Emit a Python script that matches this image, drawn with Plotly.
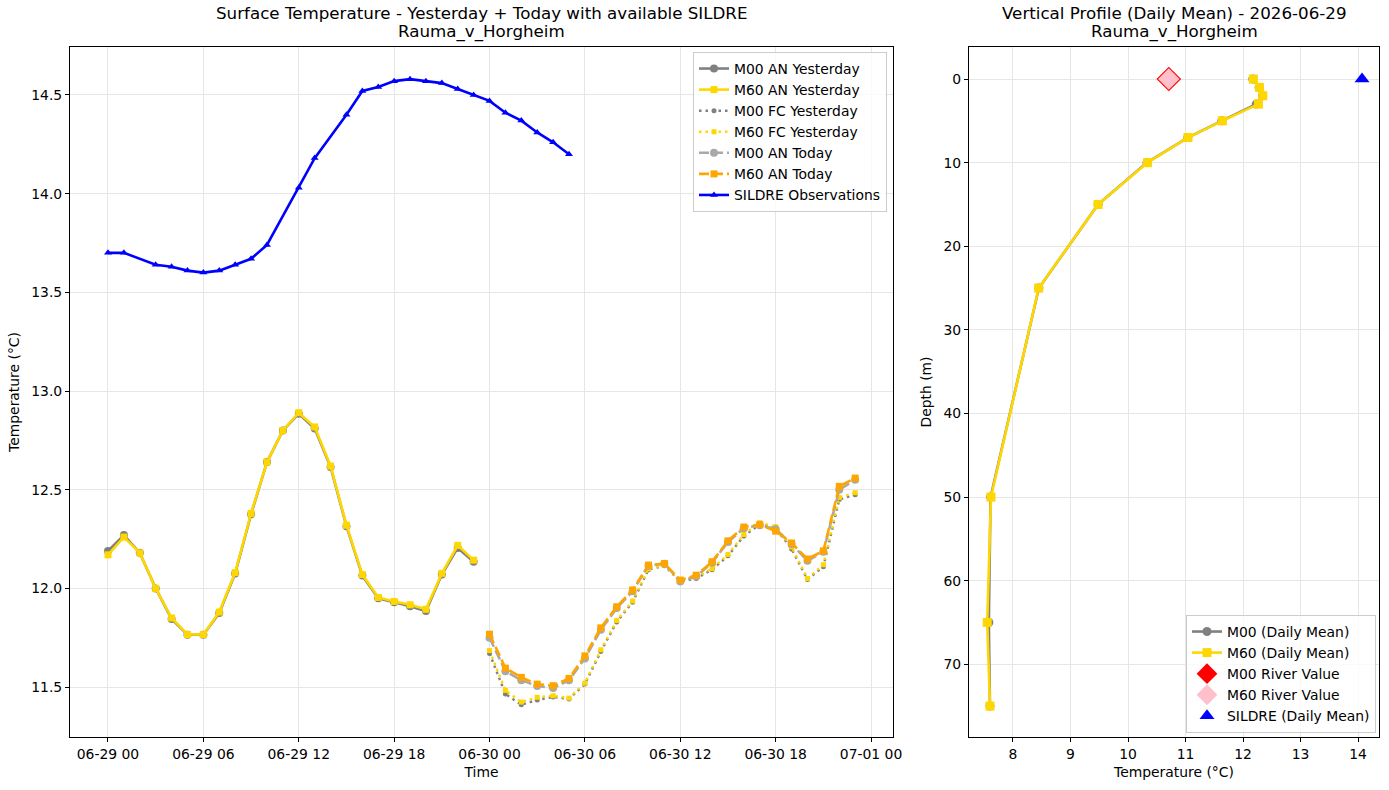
import plotly.graph_objects as go
from datetime import datetime, timedelta

# ---------------- data ----------------
day1 = datetime(2026, 6, 29)
day2 = datetime(2026, 6, 30)
hours_yesterday = [day1 + timedelta(hours=h) for h in range(24)]
hours_today = [day2 + timedelta(hours=h) for h in range(24)]

m00_an_yesterday = [12.19, 12.27, 12.18, 12.00, 11.845, 11.765, 11.765, 11.875, 12.075, 12.375,
                    12.64, 12.80, 12.885, 12.81, 12.615, 12.315, 12.065, 11.95, 11.93, 11.91,
                    11.885, 12.07, 12.205, 12.135]
m60_an_yesterday = [12.17, 12.26, 12.18, 12.00, 11.85, 11.766, 11.766, 11.88, 12.08, 12.38,
                    12.64, 12.80, 12.89, 12.818, 12.62, 12.32, 12.07, 11.954, 11.934, 11.917,
                    11.894, 12.076, 12.218, 12.143]

m00_fc_yesterday = [11.67, 11.465, 11.41, 11.435, 11.45, 11.44, 11.515, 11.68, 11.83, 11.93,
                    12.095, 12.115, 12.035, 12.05, 12.095, 12.165, 12.265, 12.325, 12.305, 12.20,
                    12.045, 12.11, 12.45, 12.475]
m60_fc_yesterday = [11.685, 11.483, 11.424, 11.448, 11.456, 11.444, 11.52, 11.689, 11.837, 11.936,
                    12.10, 12.118, 12.042, 12.056, 12.10, 12.172, 12.273, 12.333, 12.313, 12.21,
                    12.05, 12.12, 12.46, 12.485]

m00_an_today = [11.75, 11.58, 11.535, 11.505, 11.495, 11.535, 11.645, 11.79, 11.90, 11.985,
                12.115, 12.125, 12.035, 12.06, 12.13, 12.235, 12.305, 12.32, 12.30, 12.225,
                12.14, 12.185, 12.50, 12.55]
m60_an_today = [11.768, 11.596, 11.549, 11.515, 11.507, 11.544, 11.658, 11.80, 11.907, 11.992,
                12.118, 12.126, 12.042, 12.067, 12.135, 12.241, 12.311, 12.323, 12.29, 12.23,
                12.149, 12.19, 12.517, 12.559]

sildre_hours = [0, 1, 3, 4, 5, 6, 7, 8, 9, 10, 12, 13, 15, 16, 17, 18, 19, 20, 21, 22, 23,
                24, 25, 26, 27, 28, 29]
sildre_times = [day1 + timedelta(hours=h) for h in sildre_hours]
sildre_obs = [13.70, 13.70, 13.64, 13.63, 13.61, 13.60, 13.61, 13.64, 13.67, 13.74,
              14.03, 14.18, 14.40, 14.52, 14.54, 14.57, 14.58, 14.57, 14.56, 14.53, 14.50,
              14.47, 14.41, 14.37, 14.31, 14.26, 14.20]

depths = [0, 1, 2, 3, 5, 7, 10, 15, 25, 50, 65, 75]
m00_profile = [12.17, 12.28, 12.34, 12.23, 11.63, 11.04, 10.33, 9.48, 8.45, 7.61, 7.58, 7.60]
m60_profile = [12.18, 12.286, 12.344, 12.268, 11.641, 11.043, 10.34, 9.48, 8.447, 7.617, 7.552, 7.60]

river_m00 = 10.71
river_m60 = 10.71
sildre_daily_mean = 14.07

time_ticks = [day1 + timedelta(hours=6 * i) for i in range(9)]
time_tick_labels = [t.strftime("%m-%d %H") for t in time_ticks]
left_y_ticks = [11.5, 12.0, 12.5, 13.0, 13.5, 14.0, 14.5]
right_x_ticks = [8, 9, 10, 11, 12, 13, 14]
right_y_ticks = [0, 10, 20, 30, 40, 50, 60, 70]

# ---------------- figure ----------------
FONT = "DejaVu Sans, Arial, sans-serif"
fig = go.Figure()

def add_ts(x, y, name, color, symbol, msize, width, dash):
    fig.add_trace(go.Scatter(
        x=x, y=y, name=name, mode="lines+markers",
        line=dict(color=color, width=width, dash=dash),
        marker=dict(color=color, symbol=symbol, size=msize, line=dict(width=0)),
        xaxis="x", yaxis="y", legend="legend"))

add_ts(hours_yesterday, m00_an_yesterday, "M00 AN Yesterday", "#808080", "circle", 8, 2.6, "solid")
add_ts(hours_yesterday, m60_an_yesterday, "M60 AN Yesterday", "#FFD700", "square", 7, 2.6, "solid")
add_ts(hours_today, m00_fc_yesterday, "M00 FC Yesterday", "#808080", "circle", 5, 2.4, "2.5px,4px")
add_ts(hours_today, m60_fc_yesterday, "M60 FC Yesterday", "#FFD700", "square", 5, 2.4, "2.5px,4px")
add_ts(hours_today, m00_an_today, "M00 AN Today", "#A9A9A9", "circle", 8, 2.6, "10px,4px")
add_ts(hours_today, m60_an_today, "M60 AN Today", "#FFA500", "square", 7, 2.6, "10px,4px")
add_ts(sildre_times, sildre_obs, "SILDRE Observations", "#0000FF", "triangle-up", 7, 2.6, "solid")

# right profile
fig.add_trace(go.Scatter(
    x=m00_profile, y=depths, name="M00 (Daily Mean)", mode="lines+markers",
    line=dict(color="#808080", width=2.6), marker=dict(color="#808080", symbol="circle", size=9),
    xaxis="x2", yaxis="y2", legend="legend2"))
fig.add_trace(go.Scatter(
    x=m60_profile, y=depths, name="M60 (Daily Mean)", mode="lines+markers",
    line=dict(color="#FFD700", width=2.6), marker=dict(color="#FFD700", symbol="square", size=9),
    xaxis="x2", yaxis="y2", legend="legend2"))
fig.add_trace(go.Scatter(
    x=[river_m00], y=[0], name="M00 River Value", mode="markers",
    marker=dict(color="#FF0000", symbol="diamond", size=19, line=dict(width=0)),
    xaxis="x2", yaxis="y2", legend="legend2"))
fig.add_trace(go.Scatter(
    x=[river_m60], y=[0], name="M60 River Value", mode="markers",
    marker=dict(color="#FFC0CB", symbol="diamond", size=16.5, line=dict(width=0)),
    xaxis="x2", yaxis="y2", legend="legend2"))
fig.add_trace(go.Scatter(
    x=[sildre_daily_mean], y=[0], name="SILDRE (Daily Mean)", mode="markers",
    marker=dict(color="#0000FF", symbol="triangle-up", size=13, line=dict(width=0)),
    xaxis="x2", yaxis="y2", legend="legend2"))

GRID = "#e6e6e6"
axis_common = dict(showline=True, mirror=True, linecolor="black", linewidth=1.1,
                   ticks="outside", ticklen=4, tickwidth=1, tickcolor="black",
                   showgrid=True, gridcolor=GRID, gridwidth=1, zeroline=False, automargin=False,
                   tickfont=dict(family=FONT, size=13.9, color="black"))

left_dom = [0.0, (893 - 70) / 1309]
right_dom = [(969 - 70) / 1309, 1.0]

t0 = day1 - timedelta(hours=2.39)
t1 = day2 + timedelta(hours=24 + 1.38)

fig.update_layout(
    width=1389, height=790, autosize=False,
    margin=dict(l=70, r=10, t=47, b=53, autoexpand=False),
    plot_bgcolor="white", paper_bgcolor="white",
    font=dict(family=FONT, size=13.9, color="black"),
    xaxis=dict(domain=left_dom, range=[t0, t1], tickvals=time_ticks, ticktext=time_tick_labels,
               title=dict(text="Time", standoff=6, font=dict(size=13.9)), anchor="y", **axis_common),
    yaxis=dict(domain=[0, 1], range=[11.247, 14.743], tickvals=left_y_ticks,
               ticktext=[f"{v:.1f}" for v in left_y_ticks],
               title=dict(text="Temperature (°C)", standoff=8, font=dict(size=13.9)), anchor="x", **axis_common),
    xaxis2=dict(domain=right_dom, range=[7.235, 14.365], tickvals=right_x_ticks,
                title=dict(text="Temperature (°C)", standoff=6, font=dict(size=13.9)), anchor="y2", **axis_common),
    yaxis2=dict(domain=[0, 1], range=[78.7, -3.83], tickvals=right_y_ticks,
                title=dict(text="Depth (m)", standoff=8, font=dict(size=13.9)), anchor="x2", **axis_common),
    legend=dict(x=(887 - 70) / 1309, y=1 - 5 / 690, xanchor="right", yanchor="top",
                bgcolor="rgba(255,255,255,0.8)", bordercolor="#cccccc", borderwidth=1,
                font=dict(family=FONT, size=13.9)),
    legend2=dict(x=(1376 - 70) / 1309, y=4 / 690, xanchor="right", yanchor="bottom",
                 bgcolor="rgba(255,255,255,0.8)", bordercolor="#cccccc", borderwidth=1,
                 font=dict(family=FONT, size=13.9)),
    showlegend=True,
)

# subplot titles (two lines each)
left_c = (left_dom[0] + left_dom[1]) / 2
right_c = (right_dom[0] + right_dom[1]) / 2
for xc, l1, l2 in [(left_c, "Surface Temperature - Yesterday + Today with available SILDRE", "Rauma_v_Horgheim"),
                   (right_c, "Vertical Profile (Daily Mean) - 2026-06-29", "Rauma_v_Horgheim")]:
    fig.add_annotation(x=xc, y=1, xref="paper", yref="paper", text=l1, showarrow=False,
                       xanchor="center", yanchor="bottom", yshift=22,
                       font=dict(family=FONT, size=16.7, color="black"))
    fig.add_annotation(x=xc, y=1, xref="paper", yref="paper", text=l2, showarrow=False,
                       xanchor="center", yanchor="bottom", yshift=3,
                       font=dict(family=FONT, size=16.7, color="black"))

fig.write_html("out.html", config={"responsive": False})
